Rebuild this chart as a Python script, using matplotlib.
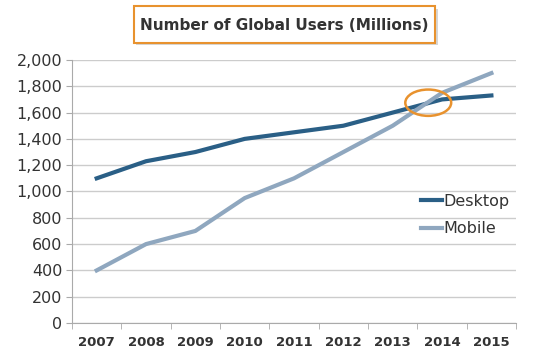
import numpy as np
import matplotlib.pyplot as plt
from matplotlib.patches import Ellipse, FancyBboxPatch
from matplotlib.ticker import FuncFormatter

years = ['2007', '2008', '2009', '2010', '2011', '2012', '2013', '2014', '2015']
desktop = [1100, 1230, 1300, 1400, 1450, 1500, 1600, 1700, 1730]
mobile = [400, 600, 700, 950, 1100, 1300, 1500, 1750, 1900]

fig = plt.figure(figsize=(5.35, 3.55), dpi=100)
ax = fig.add_axes([0.1346, 0.0901, 0.83, 0.741])

x = np.arange(len(years))
ax.plot(x, desktop, color='#2a5f86', lw=3, label='Desktop', zorder=3)
ax.plot(x, mobile, color='#8fa7bf', lw=3, label='Mobile', zorder=3)

ax.set_xlim(-0.5, len(years) - 0.5)
ax.set_ylim(0, 2000)
ax.set_yticks(range(0, 2001, 200))
ax.yaxis.set_major_formatter(FuncFormatter(lambda v, p: f'{int(v):,}'))
ax.set_xticks(x)
ax.set_xticklabels(years, fontsize=9.5, fontweight='bold', color='#333333')
ax.set_xticks(np.arange(-0.5, len(years)), minor=True)
ax.tick_params(axis='x', which='major', length=0, pad=9)
ax.tick_params(axis='x', which='minor', length=4, color='#aaaaaa')
ax.tick_params(axis='y', length=4, color='#aaaaaa', labelsize=11.5, labelcolor='#333333', pad=3)

ax.grid(axis='y', color='#cccccc', lw=1)
ax.set_axisbelow(True)
for s in ['top', 'right']:
    ax.spines[s].set_visible(False)
for s in ['left', 'bottom']:
    ax.spines[s].set_color('#aaaaaa')

# circle where the two lines cross
ax.add_patch(Ellipse((6.72, 1675), 0.93, 200, fill=False, ec='#e8922e', lw=1.8, zorder=4))

leg = ax.legend(loc='lower right', bbox_to_anchor=(1.018, 0.275), frameon=False,
                fontsize=11.5, handlelength=1.3, handletextpad=0.1, labelspacing=0.8)
for t in leg.get_texts():
    t.set_color('#333333')

# title box
shadow = FancyBboxPatch((0.255, 0.872), 0.563, 0.104, boxstyle='square,pad=0',
                        transform=fig.transFigure, fc='#bbbbbb', ec='none', alpha=0.6)
fig.patches.append(shadow)
box = FancyBboxPatch((0.25, 0.878), 0.563, 0.104, boxstyle='square,pad=0',
                     transform=fig.transFigure, fc='white', ec='#e8922e', lw=1.5)
fig.patches.append(box)
fig.text(0.5315, 0.929, 'Number of Global Users (Millions)', ha='center', va='center',
         fontsize=11, fontweight='bold', color='#333333')

fig.savefig('out.png', dpi=100)
